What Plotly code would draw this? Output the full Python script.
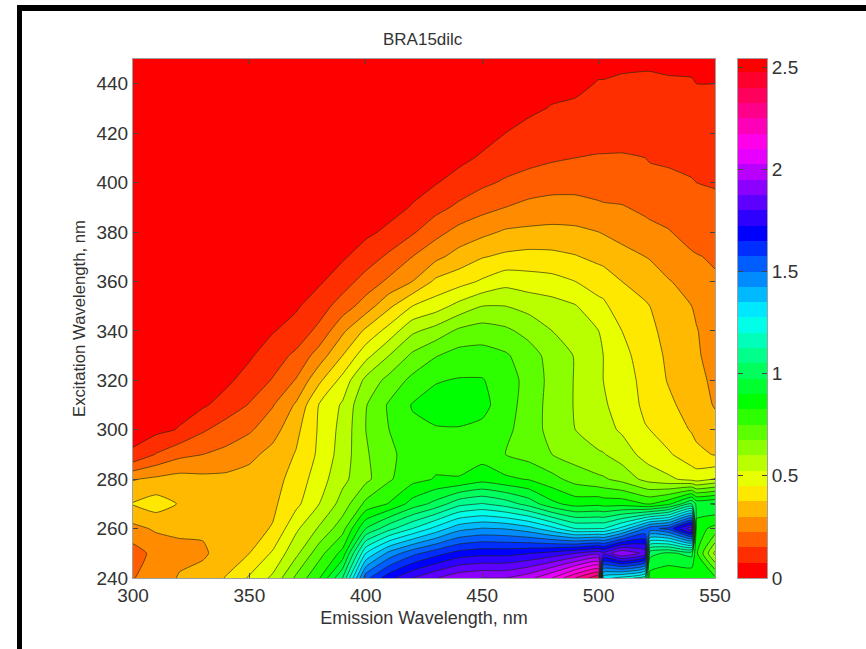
import numpy as np
import plotly.graph_objects as go

#axes of the excitation-emission matrix
emission = [300, 310, 320, 330, 340, 350, 360, 370, 380, 390, 400, 410, 420, 430, 440, 450, 460, 470,
            480, 490, 500, 502, 510, 520, 522, 530, 540, 542, 550]
excitation = [240, 250, 260, 270, 280, 290, 300, 310, 320, 330, 340, 350, 360, 370, 380, 390, 400,
              410, 420, 430, 440, 450]

#intensity per emission column (excitation 240 -> 450)
em300 = [.22, .19, .28, .38, .295, .085, .05, .035, .025, .02, .015, .01, .01, .01, .01, .01, .01, .01, .01, .01, .01, .01]
em310 = [.27, .25, .31, .41, .315, .155, .055, .04, .03, .02, .015, .01, .01, .01, .01, .01, .01, .01, .01, .01, .01, .01]
em320 = [.305, .285, .31, .37, .33, .205, .08, .05, .035, .025, .02, .015, .01, .01, .01, .01, .01, .01, .01, .01, .01, .01]
em330 = [.325, .29, .31, .355, .32, .225, .14, .065, .045, .03, .02, .015, .01, .01, .01, .01, .01, .01, .01, .01, .01, .01]
em340 = [.38, .33, .335, .35, .32, .245, .185, .105, .06, .04, .03, .02, .015, .01, .01, .01, .01, .01, .01, .01, .01, .01]
em350 = [.46, .375, .35, .35, .33, .28, .215, .155, .105, .065, .045, .03, .02, .015, .01, .01, .01, .01, .01, .01, .01, .01]
em360 = [.54, .46, .38, .36, .345, .325, .27, .22, .155, .115, .07, .045, .03, .02, .015, .01, .01, .01, .01, .01, .01, .01]
em370 = [.69, .58, .51, .43, .405, .38, .355, .31, .23, .165, .105, .065, .04, .03, .02, .015, .01, .01, .01, .01, .01, .01]
em380 = [.82, .72, .61, .525, .49, .465, .46, .455, .36, .26, .17, .115, .065, .045, .03, .02, .015, .01, .01, .01, .01, .01]
em390 = [1.05, .85, .72, .63, .58, .56, .55, .535, .475, .375, .285, .185, .115, .065, .04, .03, .02, .015, .01, .01, .01, .01]
em400 = [1.55, 1.275, .975, .77, .655, .665, .675, .67, .62, .5, .39, .26, .18, .11, .06, .04, .025, .02, .015, .01, .01, .01]
em410 = [1.7, 1.45, 1.1, .83, .74, .735, .75, .76, .7, .6, .48, .36, .24, .165, .09, .05, .03, .02, .015, .01, .01, .01]
em420 = [1.8, 1.55, 1.2, .93, .8, .78, .81, .83, .77, .69, .585, .45, .3, .225, .14, .08, .05, .03, .02, .015, .01, .01]
em430 = [1.87, 1.62, 1.3, 1.0, .83, .8, .82, .85, .82, .745, .63, .49, .39, .28, .2, .125, .07, .045, .03, .02, .015, .01]
em440 = [1.93, 1.68, 1.4, 1.1, .83, .79, .82, .86, .83, .78, .69, .55, .42, .33, .25, .165, .105, .055, .035, .025, .015, .01]
em450 = [1.95, 1.7, 1.43, 1.13, .87, .795, .805, .85, .83, .78, .71, .6, .46, .37, .28, .2, .135, .085, .045, .03, .02, .015]
em460 = [1.95, 1.7, 1.42, 1.09, .84, .75, .765, .78, .785, .76, .69, .6, .5, .39, .31, .225, .16, .11, .075, .045, .03, .02]
em470 = [2.0, 1.72, 1.38, 1.02, .82, .72, .72, .72, .725, .71, .65, .575, .485, .4, .315, .25, .175, .13, .1, .06, .04, .025]
em480 = [2.1, 1.75, 1.3, .92, .775, .675, .645, .645, .65, .645, .6, .555, .475, .395, .32, .255, .195, .14, .105, .08, .05, .03]
em490 = [2.25, 1.8, 1.2, .87, .72, .64, .6, .595, .595, .595, .565, .53, .45, .38, .315, .255, .195, .15, .12, .09, .055, .035]
em500 = [2.38, 1.85, 1.2, .88, .69, .61, .555, .54, .53, .53, .525, .47, .42, .355, .3, .24, .185, .155, .125, .1, .08, .05]
em502 = [1.3, 1.82, 1.2, .87, .685, .605, .55, .535, .525, .525, .515, .465, .415, .35, .295, .235, .185, .155, .125, .1, .08, .05]
em510 = [1.25, 1.95, 1.3, .87, .65, .565, .515, .495, .49, .47, .45, .41, .375, .325, .275, .23, .185, .155, .13, .105, .085, .06]
em520 = [1.15, 1.85, 1.5, .825, .58, .5, .455, .435, .425, .42, .405, .385, .34, .3, .25, .21, .17, .15, .125, .105, .085, .065]
em522 = [.86, 1.0, 1.55, .82, .57, .49, .45, .425, .415, .41, .395, .375, .335, .295, .245, .205, .17, .145, .125, .105, .085, .065]
em530 = [.84, .96, 1.6, .88, .54, .46, .41, .39, .37, .36, .345, .325, .305, .26, .23, .19, .165, .14, .12, .105, .08, .065]
em540 = [.83, 1.0, 1.85, 1.05, .5, .405, .37, .345, .335, .325, .31, .3, .27, .235, .195, .165, .155, .13, .115, .095, .08, .06]
em542 = [.83, .84, .86, .96, .49, .395, .355, .33, .32, .31, .305, .285, .26, .23, .19, .16, .15, .125, .11, .09, .075, .06]
em550 = [.84, .58, .8, .98, .53, .37, .325, .295, .285, .27, .255, .245, .235, .215, .185, .165, .145, .125, .105, .09, .075, .06]

columns = [em300, em310, em320, em330, em340, em350, em360, em370, em380, em390, em400, em410, em420,
           em430, em440, em450, em460, em470, em480, em490, em500, em502, em510, em520, em522, em530,
           em540, em542, em550]
intensity = np.array(columns).T

#matlab hsv colormap
hsv = [[0, "#ff0000"], [1 / 6, "#ffff00"], [2 / 6, "#00ff00"], [3 / 6, "#00ffff"],
       [4 / 6, "#0000ff"], [5 / 6, "#ff00ff"], [1, "#ff0000"]]
step = 0.075
bar_top = 2.54
#band edges of the colorbar
bar_edges = [round(i * step, 3) for i in range(34)] + [bar_top]
bar_values = [[e] for e in bar_edges[:-1]]

W, H = 866, 649
#plot block in pixels, axes and colorbar share it
left, top, right, bottom = 133, 59, 767, 578
block_w = right - left
block_h = bottom - top


def px(x):
    return (x - left) / block_w


def py(y):
    return 1 - (y - top) / block_h


font = "Liberation Sans"
text_col = "#333333"

fig = go.Figure()
fig.add_trace(go.Contour(x=emission, y=excitation, z=intensity, colorscale=hsv, showscale=False,
                         autocontour=False,
                         contours=dict(start=step, end=2.475, size=step, coloring="fill"),
                         line=dict(color="rgba(30,40,10,0.65)", width=1, smoothing=0.5),
                         xaxis="x", yaxis="y"))
fig.add_trace(go.Heatmap(x=[0, 1], y=bar_edges, z=bar_values, colorscale=hsv, zmin=0, zmax=2.475,
                         showscale=False, xaxis="x2", yaxis="y2"))

axis_line = dict(showline=True, linecolor="#a0a0a0", linewidth=1, mirror="ticks", ticks="inside",
                 ticklen=5, tickcolor="#444444", showgrid=False, zeroline=False,
                 tickfont=dict(family=font, size=19, color=text_col))

fig.update_layout(
    width=W, height=H, autosize=False,
    margin=dict(l=left, r=W - right, t=top, b=H - bottom, pad=0),
    paper_bgcolor="white", plot_bgcolor="white",
    font=dict(family=font, color=text_col),
    xaxis=dict(domain=[0, px(715)], range=[300, 550], tickvals=[300, 350, 400, 450, 500, 550],
               title=dict(text="Emission Wavelength, nm", font=dict(size=18), standoff=6), **axis_line),
    yaxis=dict(domain=[0, 1], range=[240, 450], tickvals=list(range(240, 441, 20)),
               title=dict(text="Excitation Wavelength, nm", font=dict(size=16.7), standoff=6), **axis_line),
    xaxis2=dict(domain=[px(738), 1], range=[0, 1], showticklabels=False, showline=True,
                linecolor="#a0a0a0", mirror=True, ticks="", showgrid=False, zeroline=False, anchor="y2"),
    yaxis2=dict(domain=[0, 1], range=[0, bar_top], side="right", anchor="x2",
                tickvals=[0, 0.5, 1, 1.5, 2, 2.5], ticktext=["0", "0.5", "1", "1.5", "2", "2.5"], **axis_line),
    annotations=[dict(text="BRA15dilc", xref="paper", yref="paper", x=px(423), y=py(39), showarrow=False,
                      xanchor="center", yanchor="middle", font=dict(family=font, size=17, color=text_col))],
    shapes=[dict(type="line", xref="paper", yref="paper", x0=px(17), x1=px(W), y0=py(8), y1=py(8),
                 line=dict(color="black", width=6)),
            dict(type="line", xref="paper", yref="paper", x0=px(19.5), x1=px(19.5), y0=py(H), y1=py(5),
                 line=dict(color="black", width=5))],
)

fig.write_html("out.html", config={"displayModeBar": False},
               post_script="document.body.style.margin='0';")
